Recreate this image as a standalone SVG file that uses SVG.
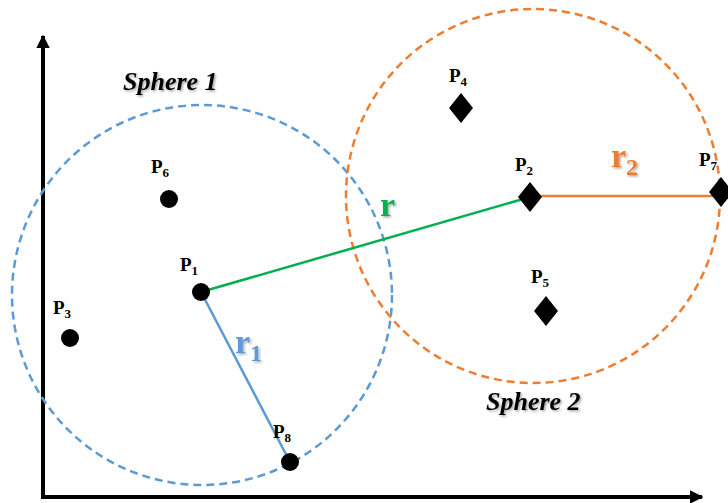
<svg xmlns="http://www.w3.org/2000/svg" width="728" height="503" viewBox="0 0 728 503">
<style>
.lbl{font-family:"Liberation Serif",serif;font-weight:bold;font-size:19px;fill:#000}
.sub{font-size:13px}
.sph{font-family:"Liberation Serif",serif;font-weight:bold;font-style:italic;font-size:26px;fill:#000}
.rl{font-family:"Liberation Serif",serif;font-weight:bold;font-size:34px}
.rs{font-size:24px}
.dot{fill:#000}
</style>
<defs>
<filter id="sh" x="-20%" y="-20%" width="140%" height="140%">
<feDropShadow dx="1.5" dy="1.5" stdDeviation="1" flood-color="#000" flood-opacity="0.35"/>
</filter>
<marker id="ah" viewBox="0 0 10 10" refX="9" refY="5" markerWidth="3.4" markerHeight="3.4" orient="auto" markerUnits="strokeWidth">
<path d="M0,0 L10,5 L0,10 z" fill="#000"/>
</marker>
</defs>
<g id="axes">
<line x1="43" y1="499" x2="43" y2="36" stroke="#000" stroke-width="4" marker-end="url(#ah)"/>
<line x1="41" y1="497" x2="702" y2="497" stroke="#000" stroke-width="4" marker-end="url(#ah)"/>
</g>
<g id="sphere1">
<circle cx="202" cy="295" r="190" fill="none" stroke="#5B9BD5" stroke-width="2.5" stroke-dasharray="8 5"/>
<text class="sph" x="123" y="90" filter="url(#sh)">Sphere 1</text>
</g>
<g id="sphere2">
<circle cx="533" cy="196" r="187" fill="none" stroke="#ED7D31" stroke-width="2.5" stroke-dasharray="8 5"/>
<text class="sph" x="486" y="410" filter="url(#sh)">Sphere 2</text>
</g>
<g id="connectors">
<line x1="201" y1="292" x2="530" y2="197" stroke="#00B050" stroke-width="2.5"/>
<line x1="201" y1="292" x2="290" y2="462" stroke="#5B9BD5" stroke-width="2.5"/>
<line x1="530" y1="196" x2="721" y2="196" stroke="#ED7D31" stroke-width="2.5"/>
<text class="rl" x="380" y="216" fill="#00B050" filter="url(#sh)">r</text>
<text class="rl" x="235" y="353" fill="#5B9BD5" filter="url(#sh)">r<tspan class="rs" dy="8">1</tspan></text>
<text class="rl" x="611" y="167" fill="#ED7D31" filter="url(#sh)">r<tspan class="rs" dy="8">2</tspan></text>
</g>
<g id="P1"><circle class="dot" cx="201" cy="292" r="9"/><text class="lbl" x="180" y="271">P<tspan class="sub" dy="4">1</tspan></text></g>
<g id="P3"><circle class="dot" cx="70" cy="338" r="9"/><text class="lbl" x="53" y="314">P<tspan class="sub" dy="4">3</tspan></text></g>
<g id="P6"><circle class="dot" cx="169" cy="199" r="9"/><text class="lbl" x="151" y="173">P<tspan class="sub" dy="4">6</tspan></text></g>
<g id="P8"><circle class="dot" cx="290" cy="462" r="9"/><text class="lbl" x="273" y="438">P<tspan class="sub" dy="4">8</tspan></text></g>
<g id="P4"><path class="dot" d="M461,93 L473,108 L461,123 L449,108 z"/><text class="lbl" x="449" y="82">P<tspan class="sub" dy="4">4</tspan></text></g>
<g id="P2"><path class="dot" d="M530,182 L542,197 L530,212 L518,197 z"/><text class="lbl" x="515" y="171">P<tspan class="sub" dy="4">2</tspan></text></g>
<g id="P5"><path class="dot" d="M546,296 L558,311 L546,326 L534,311 z"/><text class="lbl" x="531" y="283">P<tspan class="sub" dy="4">5</tspan></text></g>
<g id="P7"><path class="dot" d="M721,177 L733,192 L721,207 L709,192 z"/><text class="lbl" x="699" y="166">P<tspan class="sub" dy="4">7</tspan></text></g>
</svg>
